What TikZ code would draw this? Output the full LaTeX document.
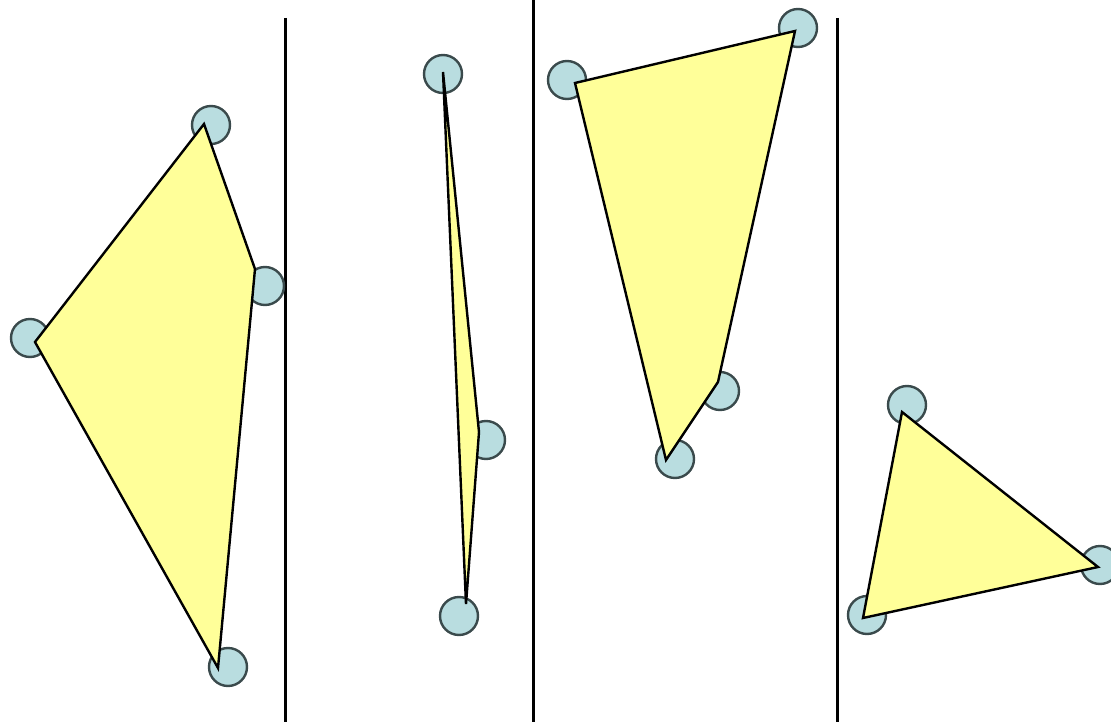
\documentclass[tikz,border=0pt]{standalone}
\definecolor{jointfill}{HTML}{B9DDE0}
\definecolor{jointline}{HTML}{3A4A4C}
\definecolor{polyfill}{HTML}{FFFF99}
\begin{document}
\begin{tikzpicture}[x=1pt,y=-1pt,
  joint/.style={draw=jointline,fill=jointfill,line width=2.4pt},
  poly/.style={draw=black,fill=polyfill,line width=2.4pt,line join=miter},
  divider/.style={draw=black,line width=3pt}]
\useasboundingbox (0,0) rectangle (1111,722);
% dividers
\coordinate (d1t) at (285,18); \coordinate (d1b) at (285,722);
\coordinate (d2t) at (533,0);  \coordinate (d2b) at (533,722);
\coordinate (d3t) at (837,18); \coordinate (d3b) at (837,722);
\draw[divider] (d1t) -- (d1b);
\draw[divider] (d2t) -- (d2b);
\draw[divider] (d3t) -- (d3b);
% joints
\foreach \n/\x/\y in {c1/30/338, c2/211/125, c3/265/286, c4/228/667,
  c5/443/74, c6/486/440, c7/459/616,
  c8/567/80, c9/798/28, c10/720/391, c11/675/459,
  c12/907/405, c13/1100/565, c14/867/615}
  \draw[joint] (\x,\y) circle (19);
% panel 1
\coordinate (a1) at (35,342); \coordinate (a2) at (204,124);
\coordinate (a3) at (255,269); \coordinate (a4) at (218,668);
\draw[poly] (a1) -- (a2) -- (a3) -- (a4) -- cycle;
% panel 2
\coordinate (b1) at (443,72); \coordinate (b2) at (479,432);
\coordinate (b3) at (466,604);
\draw[poly] (b1) -- (b2) -- (b3) -- cycle;
% panel 3
\coordinate (e1) at (575,83); \coordinate (e2) at (795,31);
\coordinate (e3) at (718,382); \coordinate (e4) at (666,460);
\draw[poly] (e1) -- (e2) -- (e3) -- (e4) -- cycle;
% panel 4
\coordinate (f1) at (902,412); \coordinate (f2) at (1098,567);
\coordinate (f3) at (863,618);
\draw[poly] (f1) -- (f2) -- (f3) -- cycle;
\end{tikzpicture}
\end{document}
